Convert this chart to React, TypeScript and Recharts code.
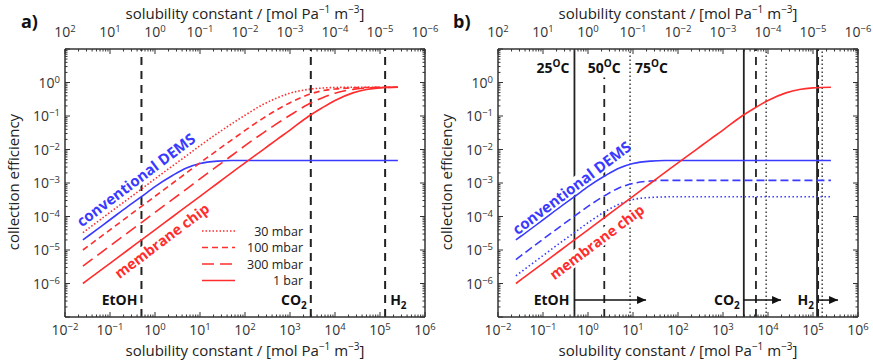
import React from 'react';
import { LineChart, Line, XAxis, YAxis, ReferenceLine, ReferenceDot } from 'recharts';

// ---- data ----
const solubility = [0.025, 0.05, 0.1, 0.25, 0.5, 1, 2.5, 5, 10, 25, 50, 100, 250, 500, 1000, 2500, 5000, 10000, 25000, 50000, 100000, 250000];
const demsSolid = [2e-5, 4e-5, 8e-5, 2e-4, 3.9e-4, 7.8e-4, 1.7e-3, 2.8e-3, 3.8e-3, 4.5e-3, 4.7e-3, 4.7e-3, 4.7e-3, 4.7e-3, 4.7e-3, 4.7e-3, 4.7e-3, 4.7e-3, 4.7e-3, 4.7e-3, 4.7e-3, 4.7e-3];
const demsDashed = [5.2e-6, 1.05e-5, 2.1e-5, 5.2e-5, 1.02e-4, 2e-4, 4.4e-4, 7.2e-4, 9.7e-4, 1.15e-3, 1.2e-3, 1.2e-3, 1.2e-3, 1.2e-3, 1.2e-3, 1.2e-3, 1.2e-3, 1.2e-3, 1.2e-3, 1.2e-3, 1.2e-3, 1.2e-3];
const demsDotted = [1.7e-6, 3.4e-6, 6.8e-6, 1.7e-5, 3.3e-5, 6.5e-5, 1.45e-4, 2.35e-4, 3.2e-4, 3.7e-4, 3.85e-4, 3.9e-4, 3.9e-4, 3.9e-4, 3.9e-4, 3.9e-4, 3.9e-4, 3.9e-4, 3.9e-4, 3.9e-4, 3.9e-4, 3.9e-4];
const chip1bar = [1e-6, 2e-6, 4e-6, 1e-5, 2e-5, 4e-5, 1e-4, 2e-4, 4e-4, 1e-3, 2e-3, 4e-3, 9.8e-3, 0.0195, 0.038, 0.095, 0.17, 0.29, 0.49, 0.62, 0.69, 0.72];
const chip300mbar = [3.3e-6, 6.6e-6, 1.33e-5, 3.3e-5, 6.6e-5, 1.33e-4, 3.3e-4, 6.6e-4, 1.33e-3, 3.3e-3, 6.5e-3, 0.013, 0.031, 0.058, 0.105, 0.22, 0.34, 0.48, 0.62, 0.68, 0.71, 0.72];
const chip100mbar = [1e-5, 2e-5, 4e-5, 1e-4, 2e-4, 4e-4, 1e-3, 2e-3, 4e-3, 9.8e-3, 0.019, 0.037, 0.085, 0.15, 0.25, 0.43, 0.56, 0.64, 0.69, 0.71, 0.72, 0.72];
const chip30mbar = [3.3e-5, 6.6e-5, 1.33e-4, 3.3e-4, 6.6e-4, 1.33e-3, 3.3e-3, 6.5e-3, 0.013, 0.031, 0.058, 0.105, 0.22, 0.34, 0.48, 0.62, 0.68, 0.71, 0.72, 0.72, 0.72, 0.72];

// ticks
const xMajorTicks = [0.01, 0.1, 1, 10, 100, 1e3, 1e4, 1e5, 1e6];
const bottomExponents = ['−2', '−1', '0', '1', '2', '3', '4', '5', '6'];
const topExponents = ['2', '1', '0', '−1', '−2', '−3', '−4', '−5', '−6'];
const yMajorTicks = [1e-7, 1e-6, 1e-5, 1e-4, 1e-3, 1e-2, 1e-1, 1, 10];
const yExponents = ['', '−6', '−5', '−4', '−3', '−2', '−1', '0', ''];

// annotations
const gasNames = ['EtOH', 'CO', 'H'];
const gasSubs = ['', '2', '2'];
const gasSolubilityA = [0.5, 2.9e3, 1.3e5];
const tempLabels = ['25', '50', '75'];
const tempEtoh = [0.5, 2.3, 8.6];
const tempCo2 = [2.9e3, 5.4e3, 9.1e3];
const tempH2 = [1.23e5, 1.3e5, 1.6e5];
const arrowEnds = [19.5, 1.95e4, 3.6e5];
const legendLabels = ['30 mbar', '100 mbar', '300 mbar', '1 bar'];

const rows = solubility.map((x, i) => ({
  x,
  dems: demsSolid[i],
  demsDashed: demsDashed[i],
  demsDotted: demsDotted[i],
  chip1bar: chip1bar[i],
  chip300: chip300mbar[i],
  chip100: chip100mbar[i],
  chip30: chip30mbar[i],
}));

const minorOf = (majors: number[]) =>
  majors.slice(0, -1).flatMap((d) => [2, 3, 4, 5, 6, 7, 8, 9].map((m) => m * d));
const xTicks = [...xMajorTicks, ...minorOf(xMajorTicks)];
const yTicks = [...yMajorTicks, ...minorOf(yMajorTicks)];

const RED = '#ff2d2d';
const BLUE = '#3a3aff';
const AX = '#333';
const TXT = '#333';
const FONT = '"Open Sans", sans-serif';
const DASH = { '30 mbar': '1.5 2', '100 mbar': '6 4', '300 mbar': '12 6', '1 bar': undefined } as Record<string, string | undefined>;

const majorIndex = (v: number, majors: number[]) =>
  majors.findIndex((m) => Math.abs(Math.log10(v) - Math.log10(m)) < 1e-6);

const BottomTick = (p: any) => {
  const { x, y, payload } = p;
  const i = majorIndex(payload.value, xMajorTicks);
  return (
    <g>
      <line x1={x} x2={x} y1={y} y2={y - (i >= 0 ? 5 : 2.5)} stroke={AX} strokeWidth={1} />
      {i >= 0 && (
        <text x={x} y={y + 18} textAnchor="middle" fontSize={14} fill={TXT} fontFamily={FONT}>
          10<tspan dy={-5} fontSize={9.5}>{bottomExponents[i]}</tspan>
        </text>
      )}
    </g>
  );
};
const TopTick = (p: any) => {
  const { x, y, payload } = p;
  const i = majorIndex(payload.value, xMajorTicks);
  return (
    <g>
      <line x1={x} x2={x} y1={y} y2={y + (i >= 0 ? 5 : 2.5)} stroke={AX} strokeWidth={1} />
      {i >= 0 && (
        <text x={x} y={y - 12} textAnchor="middle" fontSize={14} fill={TXT} fontFamily={FONT}>
          10<tspan dy={-5} fontSize={9.5}>{topExponents[i]}</tspan>
        </text>
      )}
    </g>
  );
};
const LeftTick = (p: any) => {
  const { x, y, payload } = p;
  const i = majorIndex(payload.value, yMajorTicks);
  return (
    <g>
      <line x1={x} x2={x + (i >= 0 ? 5 : 2.5)} y1={y} y2={y} stroke={AX} strokeWidth={1} />
      {i >= 0 && yExponents[i] !== '' && (
        <text x={x - 5} y={y + 5} textAnchor="end" fontSize={14} fill={TXT} fontFamily={FONT}>
          10<tspan dy={-5} fontSize={9.5}>{yExponents[i]}</tspan>
        </text>
      )}
    </g>
  );
};
const RightTick = (p: any) => {
  const { x, y, payload } = p;
  const i = majorIndex(payload.value, yMajorTicks);
  return <line x1={x} x2={x - (i >= 0 ? 5 : 2.5)} y1={y} y2={y} stroke={AX} strokeWidth={1} />;
};

const textShape = (name: string, sub: string, anchor: string, dx: number) => (p: any) => (
  <text x={p.cx + dx} y={p.cy + 5} textAnchor={anchor} fontSize={14} fontWeight="bold" fill="#111" fontFamily={FONT}>
    {name}
    {sub && <tspan dy={4} fontSize={10}>{sub}</tspan>}
  </text>
);
const tempShape = (t: string, anchor: string, dx: number) => (p: any) => (
  <text x={p.cx + dx} y={p.cy + 5} textAnchor={anchor} fontSize={14} fontWeight="bold" fill="#111" fontFamily={FONT}>
    {t}
    <tspan dy={-6} fontSize={10}>O</tspan>
    <tspan dy={6}>C</tspan>
  </text>
);
const rotShape = (txt: string, color: string, w: number, fs: number) => (p: any) => (
  <g transform={`rotate(-37 ${p.cx} ${p.cy})`}>
    <rect x={p.cx - w / 2 - 2} y={p.cy - 8} width={w + 4} height={15} fill="#fff" />
    <text x={p.cx} y={p.cy + 5} textAnchor="middle" fontSize={fs} fontWeight="bold" fill={color} fontFamily={FONT}>
      {txt}
    </text>
  </g>
);
const arrowHead = (p: any) => (
  <polygon points={`${p.cx},${p.cy} ${p.cx - 9},${p.cy - 4} ${p.cx - 9},${p.cy + 4}`} fill="#111" />
);

const AXES = () => [
  <XAxis key="xb" xAxisId="b" dataKey="x" type="number" scale="log" domain={[0.01, 1e6]} allowDataOverflow ticks={xTicks} interval={0} height={43} tickSize={0} tickMargin={0} tick={BottomTick} axisLine={{ stroke: AX, strokeWidth: 1.5 }} />,
  <XAxis key="xt" xAxisId="t" orientation="top" dataKey="x" type="number" scale="log" domain={[0.01, 1e6]} allowDataOverflow ticks={xTicks} interval={0} height={49} tickSize={0} tickMargin={0} tick={TopTick} axisLine={{ stroke: AX, strokeWidth: 1.5 }} />,
  <YAxis key="yl" yAxisId="l" type="number" scale="log" domain={[1e-7, 10]} allowDataOverflow ticks={yTicks} interval={0} width={65} tickSize={0} tickMargin={0} tick={LeftTick} axisLine={{ stroke: AX, strokeWidth: 1.5 }} />,
  <YAxis key="yr" yAxisId="r" orientation="right" type="number" scale="log" domain={[1e-7, 10]} allowDataOverflow ticks={yTicks} interval={0} width={8} tickSize={0} tickMargin={0} tick={RightTick} axisLine={{ stroke: AX, strokeWidth: 1.5 }} />,
];

const ids = { xAxisId: 'b', yAxisId: 'l' };
const LABEL_Y = 3.2e-7;

function PanelA() {
  const W = 450;
  return (
    <LineChart width={W} height={360} data={rows} margin={{ top: 0, right: W - 425 - 8, bottom: 0, left: 0 }}>
      {AXES()}
      {gasSolubilityA.map((g, i) => (
        <ReferenceLine key={'v' + i} {...ids} ifOverflow="visible" segment={[{ x: g, y: 1e-7 }, { x: g, y: 10 }]} stroke="#222" strokeWidth={2} strokeDasharray="8 6" />
      ))}
      <Line {...ids} dataKey="dems" type="monotone" dot={false} stroke={BLUE} strokeWidth={1.6} isAnimationActive={false} />
      <Line {...ids} dataKey="chip30" type="monotone" dot={false} stroke={RED} strokeWidth={1.6} strokeDasharray={DASH['30 mbar']} isAnimationActive={false} />
      <Line {...ids} dataKey="chip100" type="monotone" dot={false} stroke={RED} strokeWidth={1.6} strokeDasharray={DASH['100 mbar']} isAnimationActive={false} />
      <Line {...ids} dataKey="chip300" type="monotone" dot={false} stroke={RED} strokeWidth={1.6} strokeDasharray={DASH['300 mbar']} isAnimationActive={false} />
      <Line {...ids} dataKey="chip1bar" type="monotone" dot={false} stroke={RED} strokeWidth={1.6} isAnimationActive={false} />
      <ReferenceDot {...ids} ifOverflow="visible" x={0.38} y={1.2e-3} r={1} shape={rotShape('conventional DEMS', BLUE, 134, 15)} />
      <ReferenceDot {...ids} ifOverflow="visible" x={1.43} y={1.85e-5} r={1} shape={rotShape('membrane chip', RED, 106, 14.5)} />
      <ReferenceDot {...ids} ifOverflow="visible" x={gasSolubilityA[0]} y={LABEL_Y} r={1} shape={textShape(gasNames[0], gasSubs[0], 'end', -4)} />
      <ReferenceDot {...ids} ifOverflow="visible" x={gasSolubilityA[1]} y={LABEL_Y} r={1} shape={textShape(gasNames[1], gasSubs[1], 'end', -4)} />
      <ReferenceDot {...ids} ifOverflow="visible" x={gasSolubilityA[2]} y={LABEL_Y} r={1} shape={textShape(gasNames[2], gasSubs[2], 'start', 5)} />
    </LineChart>
  );
}

function PanelB() {
  const W = 440;
  const groups = [tempEtoh, tempCo2, tempH2];
  return (
    <LineChart width={W} height={360} data={rows} margin={{ top: 0, right: W - 425 - 8, bottom: 0, left: 0 }}>
      {AXES()}
      {groups.map((g, gi) => [
        <ReferenceLine key={'s' + gi} {...ids} ifOverflow="visible" segment={[{ x: g[0], y: 1e-7 }, { x: g[0], y: 10 }]} stroke="#222" strokeWidth={1.8} />,
        <ReferenceLine key={'d' + gi} {...ids} ifOverflow="visible" segment={[{ x: g[1], y: 1e-7 }, { x: g[1], y: gi === 0 ? 1.4 : 10 }]} stroke="#222" strokeWidth={1.8} strokeDasharray="8 6" />,
        <ReferenceLine key={'o' + gi} {...ids} ifOverflow="visible" segment={[{ x: g[2], y: 1e-7 }, { x: g[2], y: 10 }]} stroke="#222" strokeWidth={1.3} strokeDasharray="1.5 2.5" />,
      ])}
      {groups.map((g, gi) => (
        <ReferenceLine key={'a' + gi} {...ids} ifOverflow="visible" segment={[{ x: g[0], y: LABEL_Y }, { x: arrowEnds[gi], y: LABEL_Y }]} stroke="#111" strokeWidth={1.5} />
      ))}
      <Line {...ids} dataKey="dems" type="monotone" dot={false} stroke={BLUE} strokeWidth={1.6} isAnimationActive={false} />
      <Line {...ids} dataKey="demsDashed" type="monotone" dot={false} stroke={BLUE} strokeWidth={1.6} strokeDasharray="8 4" isAnimationActive={false} />
      <Line {...ids} dataKey="demsDotted" type="monotone" dot={false} stroke={BLUE} strokeWidth={1.6} strokeDasharray="1.5 2.5" isAnimationActive={false} />
      <Line {...ids} dataKey="chip1bar" type="monotone" dot={false} stroke={RED} strokeWidth={1.6} isAnimationActive={false} />
      {arrowEnds.map((a, i) => (
        <ReferenceDot key={'h' + i} {...ids} ifOverflow="visible" x={a} y={LABEL_Y} r={1} shape={arrowHead} />
      ))}
      <ReferenceDot {...ids} ifOverflow="visible" x={0.44} y={7e-4} r={1} shape={rotShape('conventional DEMS', BLUE, 134, 15)} />
      <ReferenceDot {...ids} ifOverflow="visible" x={1.58} y={1.7e-5} r={1} shape={rotShape('membrane chip', RED, 106, 14.5)} />
      <ReferenceDot {...ids} ifOverflow="visible" x={tempEtoh[0]} y={2.8} r={1} shape={tempShape(tempLabels[0], 'end', -5)} />
      <ReferenceDot {...ids} ifOverflow="visible" x={tempEtoh[1]} y={2.8} r={1} shape={tempShape(tempLabels[1], 'middle', 0)} />
      <ReferenceDot {...ids} ifOverflow="visible" x={tempEtoh[2]} y={2.8} r={1} shape={tempShape(tempLabels[2], 'start', 5)} />
      <ReferenceDot {...ids} ifOverflow="visible" x={tempEtoh[0]} y={LABEL_Y} r={1} shape={textShape(gasNames[0], gasSubs[0], 'end', -5)} />
      <ReferenceDot {...ids} ifOverflow="visible" x={tempCo2[0]} y={LABEL_Y} r={1} shape={textShape(gasNames[1], gasSubs[1], 'end', -4)} />
      <ReferenceDot {...ids} ifOverflow="visible" x={tempH2[0]} y={LABEL_Y} r={1} shape={textShape(gasNames[2], gasSubs[2], 'end', -3)} />
    </LineChart>
  );
}

const Title = ({ left, top }: { left: number; top: number }) => (
  <div style={{ position: 'absolute', left: left - 200, top, width: 400, textAlign: 'center', fontSize: 15, color: '#222', lineHeight: '18px', whiteSpace: 'nowrap' }}>
    solubility constant / [mol Pa<span style={{ fontSize: 10, position: 'relative', top: -6 }}>−1</span> m<span style={{ fontSize: 10, position: 'relative', top: -6 }}>−3</span>]
  </div>
);
const YTitle = ({ left }: { left: number }) => (
  <div style={{ position: 'absolute', left: left - 100, top: 173, width: 200, textAlign: 'center', fontSize: 15, color: '#222', lineHeight: '18px', transform: 'rotate(-90deg)' }}>
    collection efficiency
  </div>
);

export default function App() {
  return (
    <div style={{ position: 'absolute', left: 0, top: 0, width: 873, height: 360, background: '#fff', fontFamily: FONT, overflow: 'hidden' }}>
      <div style={{ position: 'absolute', left: 0, top: 0 }}>
        <PanelA />
      </div>
      <div style={{ position: 'absolute', left: 433, top: 0 }}>
        <PanelB />
      </div>
      <Title left={245} top={4} />
      <Title left={678} top={4} />
      <Title left={245} top={341} />
      <Title left={678} top={341} />
      <YTitle left={13} />
      <YTitle left={446} />
      <div style={{ position: 'absolute', left: 21, top: 9, fontSize: 18, fontWeight: 'bold', color: '#111' }}>a)</div>
      <div style={{ position: 'absolute', left: 453, top: 9, fontSize: 18, fontWeight: 'bold', color: '#111' }}>b)</div>
      <svg style={{ position: 'absolute', left: 0, top: 0 }} width={873} height={360}>
        {legendLabels.map((l, i) => (
          <g key={l}>
            <line x1={202} x2={235} y1={231 + i * 16.5} y2={231 + i * 16.5} stroke={RED} strokeWidth={1.6} strokeDasharray={DASH[l]} />
            <text x={303} y={235.5 + i * 16.5} textAnchor="end" fontSize={12.5} fill="#222" fontFamily={FONT}>{l}</text>
          </g>
        ))}
      </svg>
    </div>
  );
}
